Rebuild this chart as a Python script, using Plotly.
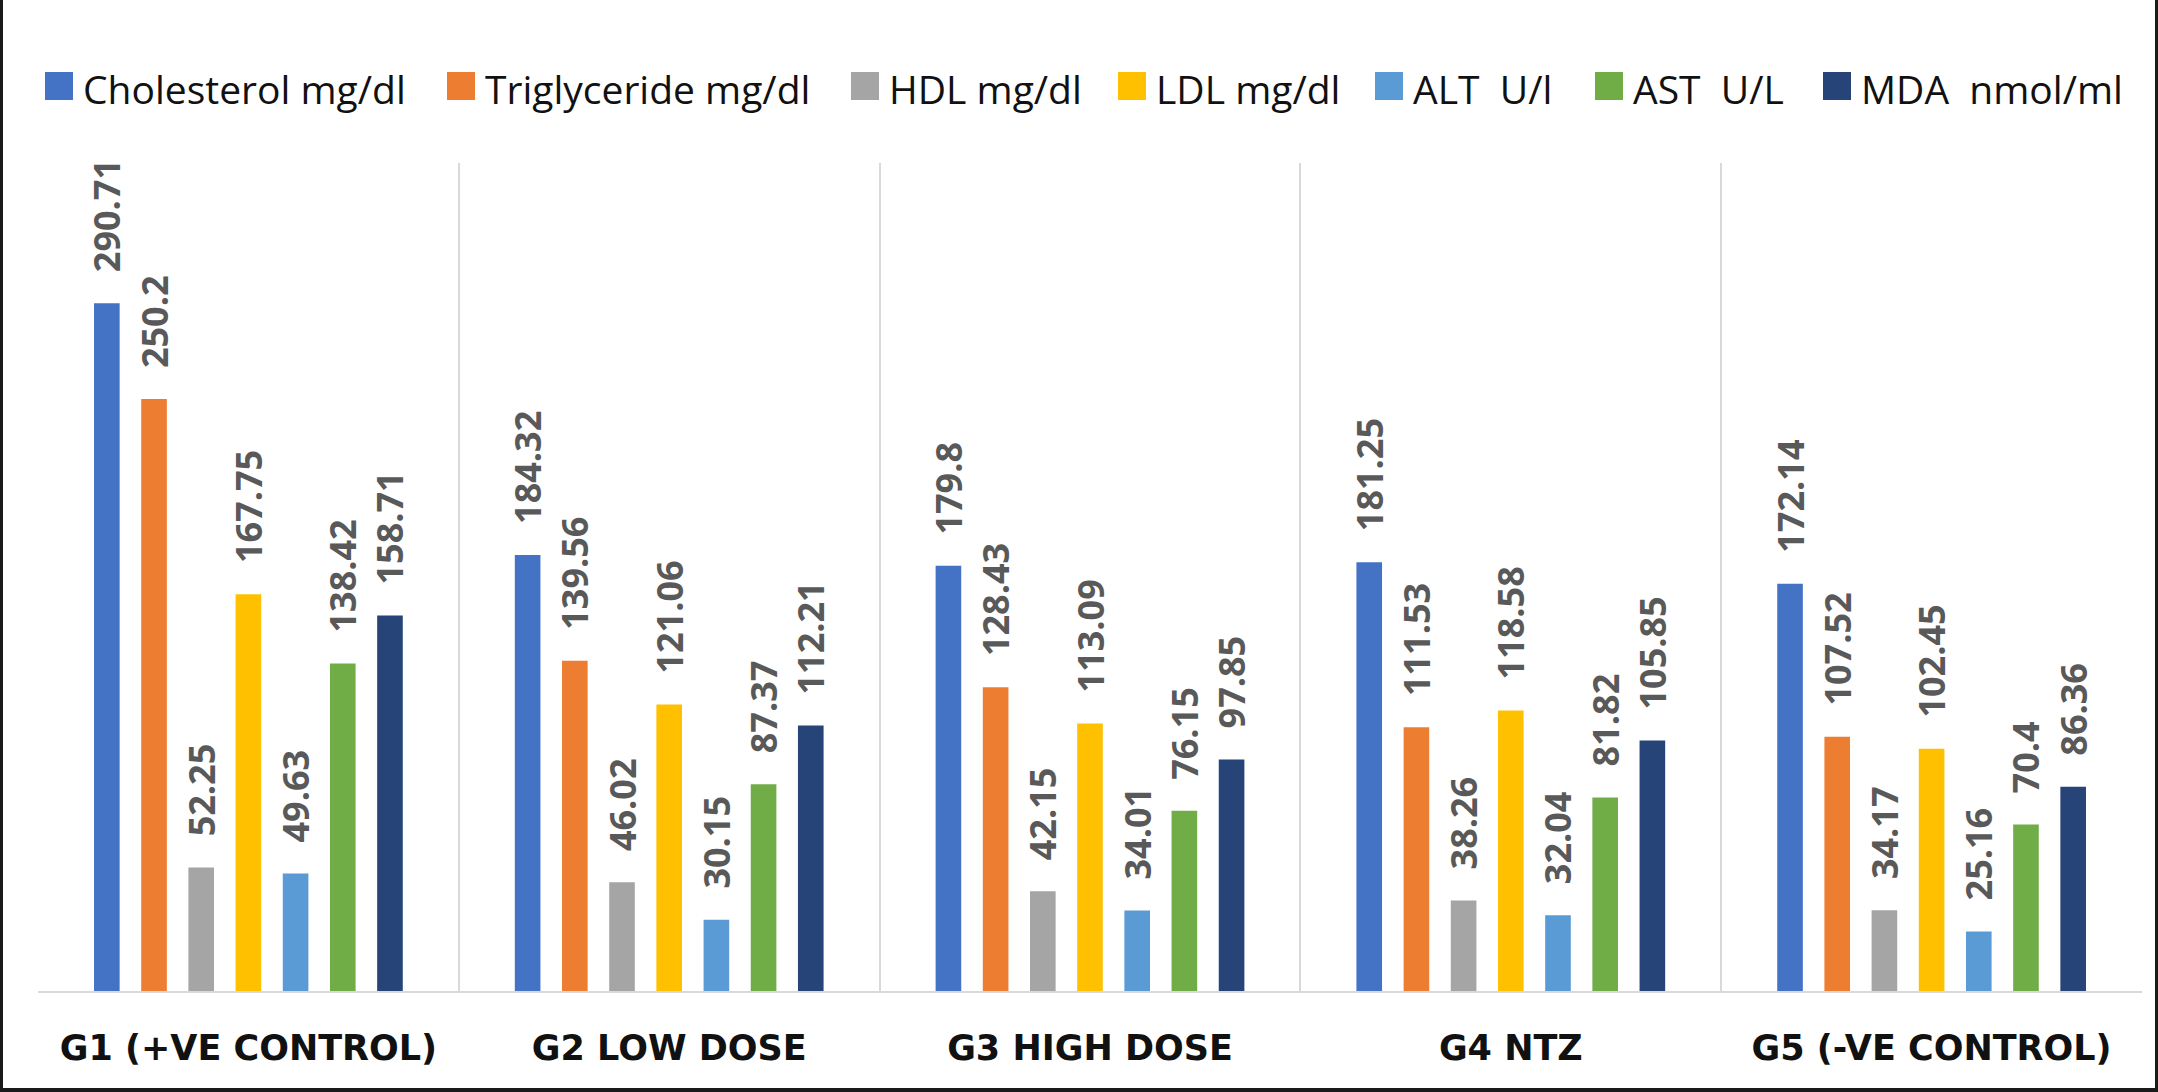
import plotly.graph_objects as go

# ---------------- data ----------------
categories = ["G1 (+VE CONTROL)", "G2 LOW DOSE", "G3 HIGH DOSE", "G4 NTZ", "G5 (-VE CONTROL)"]
series_names = ["Cholesterol mg/dl", "Triglyceride mg/dl", "HDL mg/dl", "LDL mg/dl",
                "ALT\u00a0 U/l", "AST\u00a0 U/L", "MDA\u00a0 nmol/ml"]
cholesterol = [290.71, 184.32, 179.8, 181.25, 172.14]
triglyceride = [250.2, 139.56, 128.43, 111.53, 107.52]
hdl = [52.25, 46.02, 42.15, 38.26, 34.17]
ldl = [167.75, 121.06, 113.09, 118.58, 102.45]
alt = [49.63, 30.15, 34.01, 32.04, 25.16]
ast = [138.42, 87.37, 76.15, 81.82, 70.4]
mda = [158.71, 112.21, 97.85, 105.85, 86.36]
series_values = [cholesterol, triglyceride, hdl, ldl, alt, ast, mda]

# ---------------- styles / layout ----------------
colors = ["#4472C4", "#ED7D31", "#A5A5A5", "#FFC000", "#5B9BD5", "#70AD47", "#264478"]
W, H = 2158, 1092
ML, MR, MT, MB = 38, 16, 163, 101
PW, PH = W - ML - MR, H - MT - MB
legend_left_px = [45, 447, 851, 1118, 1375, 1595, 1823]


def px_x(px):
    return (px - ML) / PW


def px_y(py):
    return (H - MB - py) / PH


fig = go.Figure()
pad = "\u00a0" * 3
for name, vals, col in zip(series_names, series_values, colors):
    fig.add_trace(go.Bar(
        x=categories, y=vals, name=name,
        marker=dict(color=col, line=dict(width=0)),
        text=[pad + str(v) for v in vals],
        textposition="outside", textangle=-90, constraintext="none",
        cliponaxis=False,
        textfont=dict(family="Open Sans", size=36, color="#595959", weight="bold"),
        showlegend=False,
    ))

shapes = []
annotations = []
for i, (name, col) in enumerate(zip(series_names, colors)):
    x0 = legend_left_px[i]
    shapes.append(dict(type="rect", xref="paper", yref="paper",
                       x0=px_x(x0), x1=px_x(x0 + 28), y0=px_y(100), y1=px_y(72),
                       fillcolor=col, line=dict(width=0)))
    annotations.append(dict(xref="paper", yref="paper", x=px_x(x0 + 36), y=px_y(88),
                            xanchor="left", yanchor="middle", showarrow=False, text=name,
                            font=dict(family="Open Sans", size=39, color="#111111")))

# black frame (left, right, bottom)
for (a, b, c, d) in [(0, 3, 0, H), (W - 3, W, 0, H), (0, W, H - 4, H)]:
    shapes.append(dict(type="rect", xref="paper", yref="paper",
                       x0=px_x(a), x1=px_x(b), y0=px_y(d), y1=px_y(c),
                       fillcolor="#1a1a1a", line=dict(width=0), layer="above"))

fig.update_layout(
    width=W, height=H,
    margin=dict(l=ML, r=MR, t=MT, b=MB),
    paper_bgcolor="white", plot_bgcolor="white",
    barmode="group", bargap=0.215, bargroupgap=0.457,
    shapes=shapes, annotations=annotations,
    xaxis=dict(type="category", tickson="boundaries", showgrid=True,
               gridcolor="#D9D9D9", gridwidth=2, showline=True, linecolor="#D9D9D9",
               linewidth=2, ticks="", ticklabelstandoff=25,
               tickfont=dict(family="DejaVu Sans", size=35, color="#111111", weight="bold")),
    yaxis=dict(range=[0, 350], visible=False, showgrid=False, zeroline=False),
)

fig.write_html("out.html", config={"displayModeBar": False},
               post_script="document.body.style.margin='0';document.body.style.overflow='hidden';")
